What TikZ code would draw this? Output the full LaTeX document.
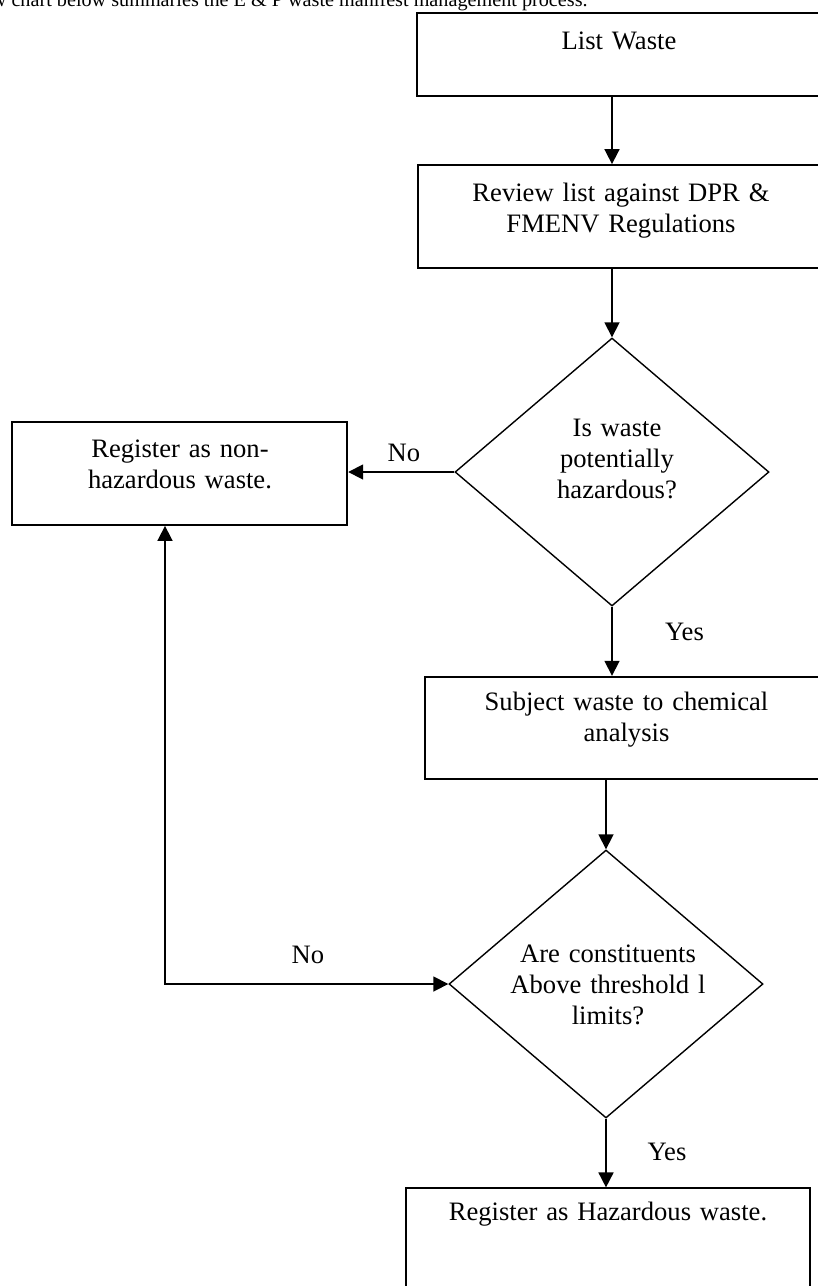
\documentclass[tikz,border=0pt]{standalone}
\usepackage{fontspec}
\setmainfont{Liberation Serif}
\usetikzlibrary{shapes.geometric,arrows.meta}
\begin{document}
\begin{tikzpicture}[x=0.5pt,y=-0.5pt,
  every node/.style={font=\fontsize{13.3}{15.5}\selectfont},
  procbox/.style={draw, line width=0.9pt, rectangle, inner sep=0pt},
  decbox/.style={draw, line width=0.7pt, diamond, inner sep=0pt, minimum width=157pt, minimum height=134pt},
  txt/.style={inner sep=0pt, align=center, anchor=base, text width=#1},
  lbl/.style={inner sep=0pt, anchor=base},
  flow/.style={line width=0.85pt, -{Triangle[length=7.5pt,width=7.5pt]}},
  twoway/.style={line width=0.85pt, {Triangle[length=7.5pt,width=7.5pt]}-{Triangle[length=7.5pt,width=7.5pt]}}
]
\useasboundingbox (0,0) rectangle (818,1286);

% intro line (cut off at the top of the picture)
\node[lbl, anchor=base east, font=\fontsize{10.1}{12}\selectfont] (intro) at (588,6) {w chart below summaries the E \& P waste manifest management process.};

% shapes
\node[procbox, minimum width=202.15pt, minimum height=41.2pt] (b1) at (618.85,54.5) {};
\node[procbox, minimum width=202.7pt, minimum height=51.35pt] (b2) at (621,216.35) {};
\node[decbox] (d1) at (612,472) {};
\node[procbox, minimum width=167.5pt, minimum height=51.35pt] (b3) at (179.8,473.65) {};
\node[procbox, minimum width=201.5pt, minimum height=51.3pt] (b4) at (626.5,728) {};
\node[decbox] (d2) at (606,984) {};
\node[procbox, minimum width=202pt, minimum height=55.85pt] (b5) at (608,1244.15) {};

% texts
\node[txt=200pt] (t1) at (619,49.3) {List Waste};
\node[txt=200pt] (t2) at (621,201.7) {Review list against DPR \&\\FMENV Regulations};
\node[txt=120pt] (t3) at (617,436) {Is waste\\potentially\\hazardous?};
\node[txt=160pt] (t4) at (180,457.5) {Register as non-\\hazardous waste.};
\node[txt=200pt] (t5) at (626.5,710) {Subject waste to chemical\\analysis};
\node[txt=120pt] (t6) at (608,962) {Are constituents\\Above threshold l\\limits?};
\node[txt=200pt] (t7) at (608,1220) {Register as Hazardous waste.};

% labels
\node[lbl] (no1) at (404,461) {No};
\node[lbl] (yes1) at (684.5,640) {Yes};
\node[lbl] (no2) at (308,963) {No};
\node[lbl] (yes2) at (667,1160.7) {Yes};

% connectors
\draw[flow] (b1.south -| d1.north) -- (b2.north -| d1.north);
\draw[flow] (b2.south -| d1.north) -- (d1.north);
\draw[flow] (d1.west) -- (b3.east |- d1.west);
\draw[flow] (d1.south) -- (b4.north -| d1.south);
\draw[flow] (b4.south -| d2.north) -- (d2.north);
\coordinate (bend) at (165,984);
\draw[twoway] (bend |- b3.south) -- (bend) -- (d2.west);
\draw[flow] (d2.south) -- (b5.north -| d2.south);
\end{tikzpicture}
\end{document}
